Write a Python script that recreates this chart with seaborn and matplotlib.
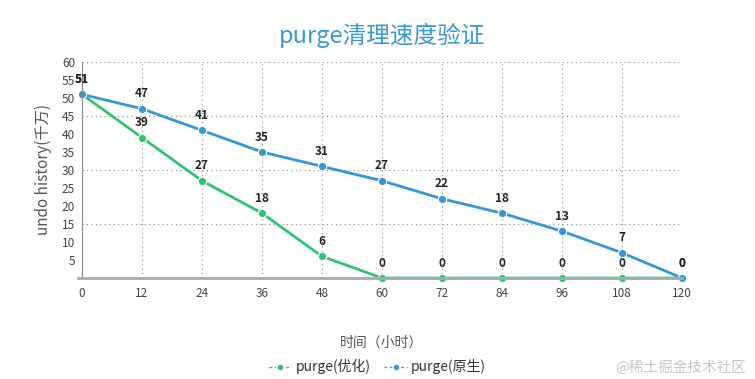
import numpy as np
import pandas as pd
import matplotlib
matplotlib.use("Agg")
import matplotlib.pyplot as plt
import seaborn as sns
from matplotlib.lines import Line2D

hours = [0, 12, 24, 36, 48, 60, 72, 84, 96, 108, 120]
optimized = [51, 39, 27, 18, 6, 0, 0, 0, 0, 0, 0]
original = [51, 47, 41, 35, 31, 27, 22, 18, 13, 7, 0]
series_names = ["purge(优化)", "purge(原生)"]
colors = ["#2fc46f", "#3497d6"]

df = pd.concat([
    pd.DataFrame({"hour": hours, "value": optimized, "series": series_names[0]}),
    pd.DataFrame({"hour": hours, "value": original, "series": series_names[1]}),
])

sns.set_style("white")
plt.rcParams['font.family'] = ['Noto Sans CJK SC', 'DejaVu Sans']

fig = plt.figure(figsize=(7.55, 3.79), dpi=100)
ax = fig.add_axes([0.1086, 0.2665, 0.7947, 0.57])

sns.lineplot(data=df, x="hour", y="value", hue="series", palette=colors,
             marker="o", markersize=6, markeredgecolor="white", markeredgewidth=0.8,
             linewidth=2, ax=ax, legend=False, clip_on=False)

# data labels
for vals in [optimized, original]:
    for h, v in zip(hours, vals):
        ax.annotate(str(v), (h, v), xytext=(0, 6), textcoords="offset points",
                    ha="center", va="bottom", fontsize=8.5, fontweight="bold",
                    color="#222222")

ax.set_xlim(0, 120)
ax.set_ylim(0, 60)
ax.set_xticks(hours)
ax.set_yticks(range(5, 65, 5))
ax.tick_params(axis="both", labelsize=8.5, colors="#444444", length=3, width=0.6)
ax.tick_params(axis="y", pad=2)

# grid: vertical every 12, horizontal every 15
for h in hours[1:]:
    ax.axvline(h, color="#888888", linestyle=(0, (1, 3)), linewidth=0.8, zorder=0)
for y in [15, 30, 45, 60]:
    ax.axhline(y, color="#888888", linestyle=(0, (1, 3)), linewidth=0.8, zorder=0)

for s in ["top", "right"]:
    ax.spines[s].set_visible(False)
ax.spines["left"].set_color("#888888")
ax.spines["left"].set_linewidth(0.8)
ax.spines["bottom"].set_color("#aaaaaa")
ax.spines["bottom"].set_linewidth(2)
ax.spines["bottom"].set_bounds(-0.8, 120)

ax.set_xlabel("时间（小时）", fontsize=10, color="#555555", labelpad=26)
ax.set_ylabel("undo history(千万)", fontsize=11, color="#555555", labelpad=7)
ax.set_title("purge清理速度验证", fontsize=17, color="#3a98d8", pad=14)

# legend
handles = [Line2D([0], [0], color=c, marker="o", markersize=5, linestyle=(0, (2, 2)),
                  linewidth=1, markeredgecolor="white") for c in colors]
fig.legend(handles, series_names, loc="center", bbox_to_anchor=(0.5, 0.032),
           ncol=2, frameon=False, fontsize=10, handlelength=1.6, handletextpad=0.3,
           columnspacing=1.0, labelcolor="#333333")

fig.text(0.988, 0.03, "@稀土掘金技术社区", ha="right", va="center", fontsize=10.5,
         color="#c8c8c8")

fig.savefig("out.png", dpi=100)
